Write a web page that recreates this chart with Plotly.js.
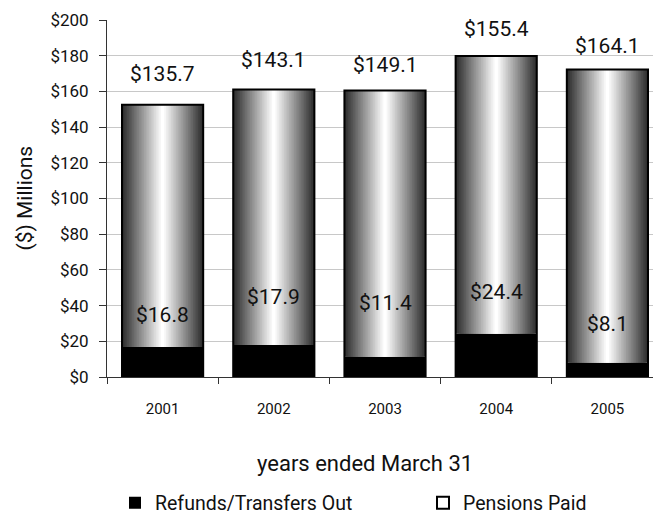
<!DOCTYPE html>
<html>
<head>
<meta charset="utf-8">
<script src="https://cdn.plot.ly/plotly-3.0.1.min.js"></script>
<style>html,body{margin:0;padding:0;background:#fff;}#chart{width:653px;height:516px;}</style>
</head>
<body>
<div id="chart"></div>
<script>
// ---- data ----
const years = ['2001', '2002', '2003', '2004', '2005'];
const refunds = [16.8, 17.9, 11.4, 24.4, 8.1];
const pensions = [135.7, 143.1, 149.1, 155.4, 164.1];
const yTickVals = [0, 20, 40, 60, 80, 100, 120, 140, 160, 180, 200];
const yTickText = ['$0', '$20', '$40', '$60', '$80', '$100', '$120', '$140', '$160', '$180', '$200'];

// ---- label pixel offsets (layout only) ----
const topLabelShift = [31, 30, 26, 27, 24];
const innerLabelShift = [32, 48, 54, 41, 39];

const FONT = 'Roboto, "Liberation Sans", Arial, sans-serif';
const W = 0.73;
const totals = refunds.map((r, i) => r + pensions[i]);

const traces = [];
traces.push({
  type: 'bar', x: years, y: refunds, width: years.map(() => W),
  name: 'Refunds/Transfers Out',
  marker: {color: '#000000', line: {width: 0}},
  hoverinfo: 'skip', showlegend: true, legend: 'legend'
});
const N = 24;
for (let k = 0; k < N; k++) {
  const t = k / (N - 1);
  const g = Math.round(46 + (255 - 46) * t);
  traces.push({
    type: 'bar', x: years, y: pensions, base: refunds,
    width: years.map(() => W * (1 - k / N)),
    marker: {color: `rgb(${g},${g},${g})`, line: {width: 0}},
    hoverinfo: 'skip', showlegend: false
  });
}
// outline around the full stack
traces.push({
  type: 'bar', x: years, y: totals, base: years.map(() => 0),
  width: years.map(() => W),
  name: 'Pensions Paid',
  marker: {color: 'rgba(255,255,255,0)', line: {color: '#000000', width: 2}},
  hoverinfo: 'skip', showlegend: true, legend: 'legend2'
});

const annotations = [];
years.forEach((yr, i) => {
  annotations.push({
    x: i, y: totals[i], xref: 'x', yref: 'y', yshift: topLabelShift[i],
    text: '$' + pensions[i].toFixed(1), showarrow: false,
    yanchor: 'middle', font: {family: FONT, size: 21, color: '#111'}
  });
  annotations.push({
    x: i, y: refunds[i], xref: 'x', yref: 'y', yshift: innerLabelShift[i],
    text: '$' + refunds[i].toFixed(1), showarrow: false,
    yanchor: 'middle', font: {family: FONT, size: 21, color: '#111'}
  });
});
// axis titles placed as in the original
annotations.push({
  x: (365 - 107) / 546, y: -(463 - 377) / 357, xref: 'paper', yref: 'paper',
  xanchor: 'center', yanchor: 'middle',
  text: 'years ended March 31', showarrow: false,
  font: {family: FONT, size: 22, color: '#111'}
});
annotations.push({
  x: (24 - 107) / 546, y: 0.5, xref: 'paper', yref: 'paper',
  xanchor: 'center', yanchor: 'middle', textangle: -90,
  text: '($) Millions', showarrow: false,
  font: {family: FONT, size: 21, color: '#111'}
});

const legendCommon = {
  orientation: 'h', xref: 'container', yref: 'container',
  xanchor: 'left', y: (516 - 503) / 516, yanchor: 'middle',
  font: {family: FONT, size: 19.5, color: '#111'},
  itemwidth: 30, itemclick: false, bgcolor: 'rgba(0,0,0,0)'
};

const layout = {
  width: 653, height: 516,
  margin: {l: 107, r: 0, t: 20, b: 139},
  paper_bgcolor: '#ffffff', plot_bgcolor: '#ffffff',
  barmode: 'overlay',
  font: {family: FONT, size: 15, color: '#111'},
  xaxis: {
    type: 'category', range: [-0.5, 4.41],
    tickson: 'boundaries', ticks: 'outside', ticklen: 6, tickcolor: '#333',
    ticklabelstandoff: 18,
    showline: true, linecolor: '#333', linewidth: 1,
    showgrid: false, fixedrange: true,
    tickfont: {family: FONT, size: 15, color: '#111'}
  },
  yaxis: {
    range: [0, 200], tickvals: yTickVals, ticktext: yTickText,
    ticks: 'outside', ticklen: 7, tickcolor: '#333',
    ticklabelstandoff: 7,
    showline: true, linecolor: '#333', linewidth: 1,
    showgrid: true, gridcolor: '#c8c8c8', gridwidth: 1, zeroline: false,
    fixedrange: true,
    tickfont: {family: FONT, size: 17, color: '#111'}
  },
  legend: Object.assign({}, legendCommon, {x: 115 / 653}),
  legend2: Object.assign({}, legendCommon, {x: 423 / 653}),
  annotations: annotations,
  showlegend: true
};

Plotly.newPlot('chart', traces, layout, {displayModeBar: false, staticPlot: true});
</script>
</body>
</html>
